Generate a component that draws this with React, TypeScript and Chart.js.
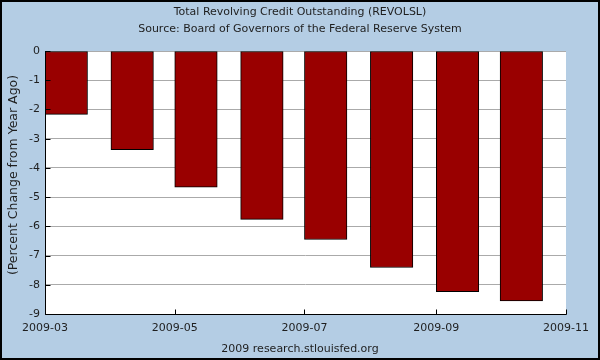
import React, { useEffect, useRef } from 'react';
import { Chart, registerables } from 'chart.js';

Chart.register(...registerables);

const TITLE_LINES = [
  'Total Revolving Credit Outstanding (REVOLSL)',
  'Source: Board of Governors of the Federal Reserve System',
];
const Y_TITLE = '(Percent Change from Year Ago)';
const FOOTER = '2009 research.stlouisfed.org';

const MONTHS = ['2009-03', '2009-04', '2009-05', '2009-06', '2009-07', '2009-08', '2009-09', '2009-10'];
const VALUES = [-2.17, -3.38, -4.66, -5.76, -6.45, -7.41, -8.24, -8.55];
const X_TICK_LABELS = ['2009-03', '2009-05', '2009-07', '2009-09', '2009-11'];
const Y_MIN = -9;
const Y_MAX = 0;

const FONT = 'DejaVu Sans';
const TEXT = '#1e1e1e';
const BG = '#b4cde4';
const BAR = '#990000';

const DAY_MS = 86400000;
const ORIGIN = Date.UTC(2009, 2, 1);
function dayOf(ym: string): number {
  const [y, m] = ym.split('-').map(Number);
  return (Date.UTC(y, m - 1, 1) - ORIGIN) / DAY_MS;
}

const decor = {
  id: 'decor',
  beforeDraw(chart: any) {
    const { ctx, chartArea } = chart;
    ctx.save();
    ctx.fillStyle = BG;
    ctx.fillRect(0, 0, chart.width, chart.height);
    ctx.fillStyle = '#ffffff';
    ctx.fillRect(chartArea.left, chartArea.top, chartArea.right - chartArea.left, chartArea.bottom - chartArea.top);
    ctx.restore();
  },
  afterDatasetsDraw(chart: any) {
    const { ctx, chartArea } = chart;
    const xs = chart.scales.x;
    const ys = chart.scales.y;
    const L = Math.round(chartArea.left) + 0.5;
    const B = Math.round(chartArea.bottom) + 0.5;
    ctx.save();
    ctx.strokeStyle = '#000000';
    ctx.lineWidth = 1;
    ctx.beginPath();
    ctx.moveTo(L, chartArea.top);
    ctx.lineTo(L, B);
    ctx.lineTo(Math.round(chartArea.right) + 0.5, B);
    ys.ticks.forEach((t: any) => {
      const y = Math.round(ys.getPixelForValue(t.value)) + 0.5;
      ctx.moveTo(L, y);
      ctx.lineTo(L + 5, y);
    });
    xs.ticks.forEach((t: any) => {
      const x = Math.round(xs.getPixelForValue(t.value)) + 0.5;
      ctx.moveTo(x, B);
      ctx.lineTo(x, B - 5);
    });
    ctx.stroke();
    ctx.restore();
  },
  afterDraw(chart: any) {
    const { ctx } = chart;
    ctx.save();
    ctx.fillStyle = TEXT;
    ctx.textAlign = 'center';
    ctx.textBaseline = 'middle';
    ctx.font = `11px "${FONT}"`;
    ctx.fillText(TITLE_LINES[0], chart.width / 2, 12.5);
    ctx.fillText(TITLE_LINES[1], chart.width / 2, 29);
    ctx.fillText(FOOTER, chart.width / 2, 349);
    ctx.font = `12.5px "${FONT}"`;
    ctx.translate(14, 175);
    ctx.rotate(-Math.PI / 2);
    ctx.fillText(Y_TITLE, 0, 0);
    ctx.restore();
    ctx.save();
    ctx.strokeStyle = '#000000';
    ctx.lineWidth = 2;
    ctx.strokeRect(1, 1, chart.width - 2, chart.height - 2);
    ctx.restore();
  },
};

export default function App() {
  const ref = useRef<HTMLCanvasElement | null>(null);

  useEffect(() => {
    document.body.style.margin = '0';
    const canvas = ref.current;
    if (!canvas) return;
    const data = MONTHS.map((m, i) => ({ x: dayOf(m) + 10, y: VALUES[i] }));
    const chart = new Chart(canvas, {
      type: 'bar',
      data: {
        datasets: [
          {
            data: data as any,
            backgroundColor: BAR,
            borderColor: '#000000',
            borderWidth: 1,
            borderSkipped: false,
            barThickness: 42.5,
          },
        ],
      },
      plugins: [decor],
      options: {
        animation: false,
        responsive: false,
        devicePixelRatio: 1,
        layout: { padding: { left: 0, right: 34, top: 51, bottom: 26 } },
        plugins: {
          legend: { display: false },
          tooltip: { enabled: false },
          title: { display: false },
        },
        scales: {
          x: {
            type: 'linear',
            offset: false,
            min: dayOf(X_TICK_LABELS[0]),
            max: dayOf(X_TICK_LABELS[X_TICK_LABELS.length - 1]),
            afterBuildTicks: (scale: any) => {
              scale.ticks = X_TICK_LABELS.map((l) => ({ value: dayOf(l) }));
            },
            afterFit: (scale: any) => {
              scale.height = 20;
            },
            grid: { display: false, drawTicks: false, offset: false },
            border: { display: false },
            ticks: {
              autoSkip: false,
              maxRotation: 0,
              padding: 8,
              color: TEXT,
              font: { family: FONT, size: 11 },
              callback: (v: any) => {
                const idx = X_TICK_LABELS.findIndex((l) => dayOf(l) === v);
                return idx >= 0 ? X_TICK_LABELS[idx] : '';
              },
            },
          },
          y: {
            type: 'linear',
            min: Y_MIN,
            max: Y_MAX,
            afterFit: (scale: any) => {
              scale.width = 45;
            },
            grid: { color: '#aaaaaa', lineWidth: 1, drawTicks: false },
            border: { display: false },
            ticks: {
              stepSize: 1,
              padding: 5,
              color: TEXT,
              font: { family: FONT, size: 11 },
              callback: (v: any) => String(v),
            },
          },
        },
      },
    });
    return () => chart.destroy();
  }, []);

  return (
    <div style={{ width: 600, height: 360 }}>
      <canvas ref={ref} width={600} height={360} style={{ display: 'block' }} />
    </div>
  );
}
